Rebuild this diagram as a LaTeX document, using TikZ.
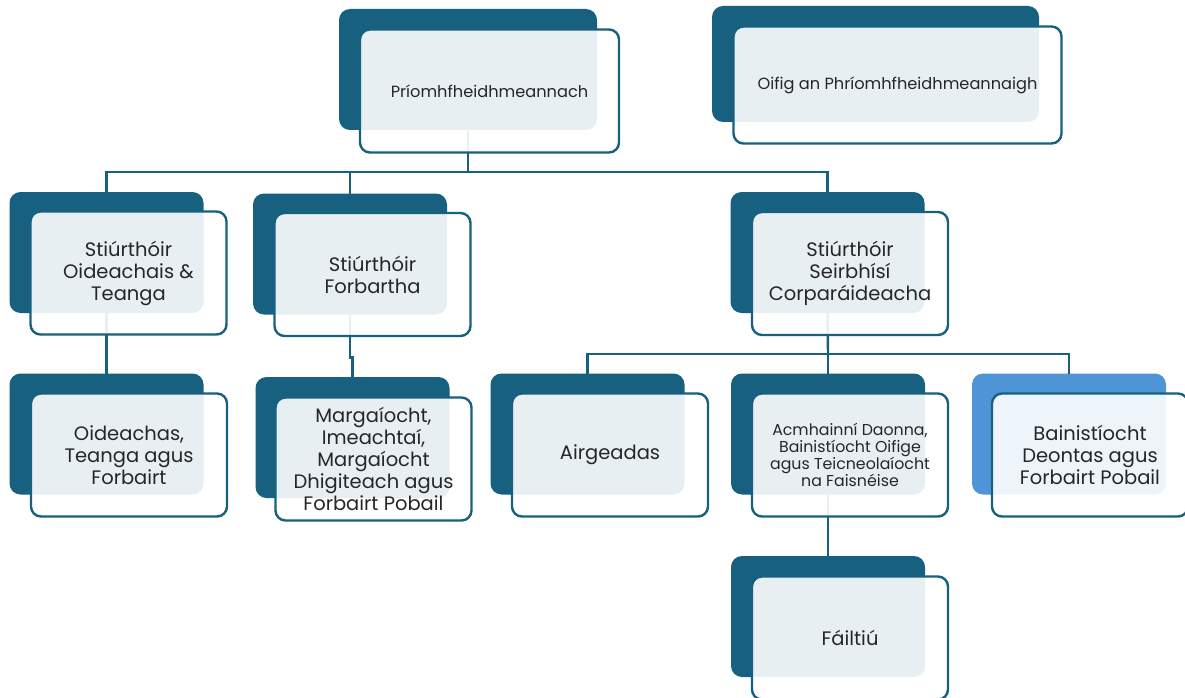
\documentclass[tikz,border=0pt]{standalone}
\usepackage{fontspec}
\setmainfont{Poppins}
\usetikzlibrary{calc}
\definecolor{dkblue}{HTML}{17607F}
\definecolor{ltblue}{HTML}{4F94D6}
\definecolor{txt}{HTML}{262626}
\tikzset{
  backbox/.style={rectangle, rounded corners=11pt, fill=dkblue, minimum width=194pt, minimum height=121pt, inner sep=0pt, outer sep=0pt},
  frontbox/.style={rectangle, rounded corners=10pt, draw=dkblue, line width=2.4pt, fill=white, fill opacity=0.9, text opacity=1, text=txt, minimum width=196pt, minimum height=123pt, inner sep=2pt, outer sep=0pt, align=center, font=\fontsize{19.5}{22}\selectfont},
  conn/.style={draw=dkblue, line width=2.4pt},
}
\begin{document}
\begin{tikzpicture}[x=1pt, y=-1pt]
\clip (0,0) rectangle (1185,698);
\fill[white] (0,0) rectangle (1185,698);
% bus points
\coordinate (bus1) at (468,172);
\coordinate (bus2) at (828,354);
% back boxes
\node[backbox, minimum width=258pt] (root-b) at (468,69.5) {};
\node[backbox, minimum width=327pt, minimum height=116pt] (oifig-b) at (875.5,64) {};
\node[backbox] (l2a-b) at (106.5,252.5) {};
\node[backbox] (l2b-b) at (350,254) {};
\node[backbox] (l2c-b) at (827.5,252.5) {};
\node[backbox] (l3a-b) at (106.5,434) {};
\node[backbox] (l3b-b) at (352.5,437.5) {};
\node[backbox] (airg-b) at (587.5,434) {};
\node[backbox] (acmh-b) at (828,434) {};
\node[backbox, fill=ltblue] (bain-b) at (1069,434) {};
\node[backbox] (fail-b) at (828,616.5) {};
% connectors
\draw[conn] (root-b.south) -- (bus1);
\draw[conn] (bus1) -| (l2a-b.north);
\draw[conn] (bus1) -| (l2b-b.north);
\draw[conn] (bus1) -| (l2c-b.north);
\draw[conn] (l2a-b.south) -- (l3a-b.north);
\draw[conn] (l2b-b.south) -- ($(l2b-b.south)+(0,43)$) -| (l3b-b.north);
\draw[conn] (l2c-b.south) -- (bus2);
\draw[conn] (bus2) -| (airg-b.north);
\draw[conn] (bus2) -- (acmh-b.north);
\draw[conn] (bus2) -| (bain-b.north);
\draw[conn] (acmh-b.south) -- (fail-b.north);
% front boxes
\node[frontbox, minimum width=259pt, font=\fontsize{16.2}{19}\selectfont] (root) at (489.5,91) {Príomhfheidhmeannach};
\node[frontbox, minimum width=328pt, minimum height=117pt, font=\fontsize{16.2}{19}\selectfont] (oifig) at (897.5,85) {Oifig an Phríomhfheidhmeannaigh};
\node[frontbox] (l2a) at (128.5,273) {Stiúrthóir\\Oideachais \&\\Teanga};
\node[frontbox] (l2b) at (372.5,274.5) {Stiúrthóir\\Forbartha};
\node[frontbox] (l2c) at (850,273.5) {Stiúrthóir\\Seirbhísí\\Corparáideacha};
\node[frontbox] (l3a) at (129,455) {Oideachas,\\Teanga agus\\Forbairt};
\node[frontbox] (l3b) at (373.5,459) {Margaíocht,\\Imeachtaí,\\Margaíocht\\Dhigiteach agus\\Forbairt Pobail};
\node[frontbox] (airg) at (610,455) {Airgeadas};
\node[frontbox, font=\fontsize{15.8}{17}\selectfont] (acmh) at (850,455) {Acmhainní Daonna,\\Bainistíocht Oifige\\agus Teicneolaíocht\\na Faisnéise};
\node[frontbox] (bain) at (1090,455) {Bainistíocht\\Deontas agus\\Forbairt Pobail};
\node[frontbox] (fail) at (850,638) {Fáiltiú};
\end{tikzpicture}
\end{document}
